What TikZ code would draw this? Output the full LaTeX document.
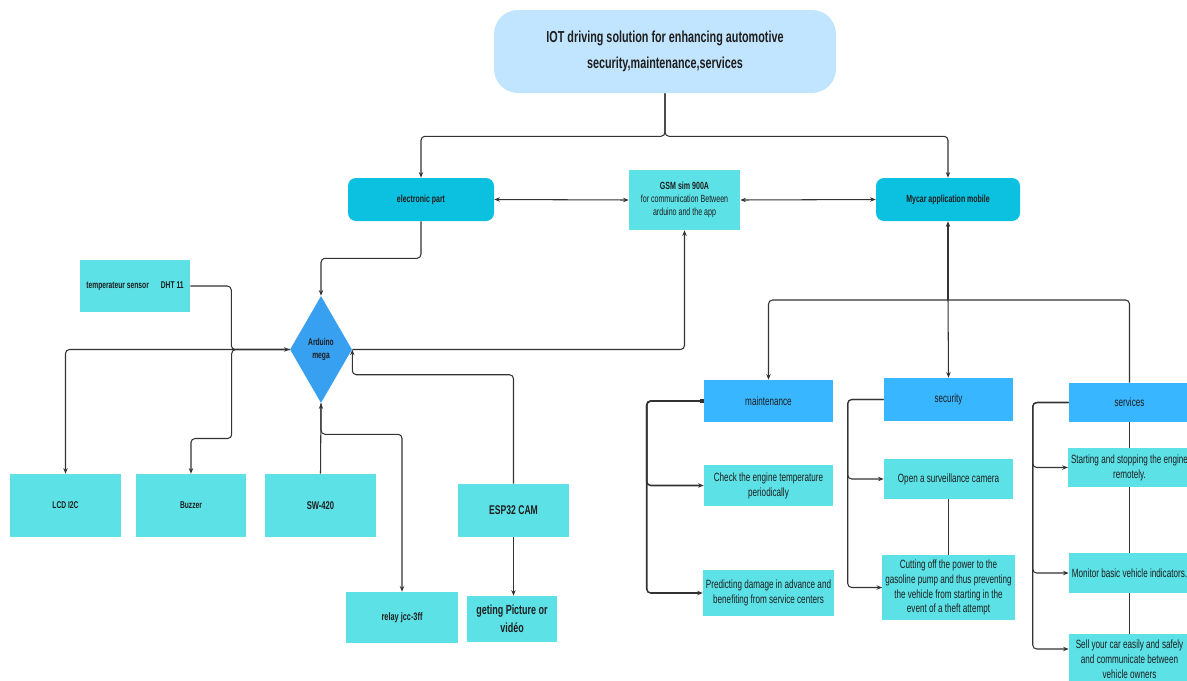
\documentclass[tikz,border=0pt]{standalone}
\usepackage{fontspec}
\setmainfont{Liberation Sans}[FakeStretch=0.68]
\usetikzlibrary{shapes.geometric,arrows.meta}
\definecolor{titleblue}{HTML}{C2E5FF}
\definecolor{partcyan}{HTML}{0CC0DF}
\definecolor{itemteal}{HTML}{5CE1E6}
\definecolor{topicblue}{HTML}{38B6FF}
\definecolor{chipblue}{HTML}{38A0F0}
\definecolor{linegray}{HTML}{333333}
\definecolor{textdark}{HTML}{1E1E1E}
\tikzset{
	cellbase/.style={inner sep=2pt, align=center, text=textdark},
	headbox/.style={cellbase, fill=titleblue, rounded corners=6mm, font=\bfseries\fontsize{11.3}{18}\selectfont},
	partbox/.style={cellbase, fill=partcyan, rounded corners=2mm, font=\bfseries\fontsize{7.3}{9}\selectfont},
	itembox/.style={cellbase, fill=itemteal, font=\fontsize{8.5}{10.6}\selectfont},
	partitem/.style={cellbase, fill=itemteal, font=\bfseries\fontsize{7}{9}\selectfont},
	topicbox/.style={cellbase, fill=topicblue, font=\fontsize{8.5}{10.6}\selectfont},
	chip/.style={diamond, fill=chipblue, aspect=0.58, inner sep=0pt, text=textdark, align=center, font=\bfseries\fontsize{7}{9}\selectfont},
	conn/.style={draw=linegray, line width=0.75pt, rounded corners=1mm},
}
\begin{document}
\begin{tikzpicture}[x=0.25mm, y=-0.25mm, >={Stealth[length=1.4mm,width=1.1mm]}]
	\useasboundingbox (0,0) rectangle (1187,680);
	% top
	\node[headbox, minimum width=85.5mm, minimum height=20.75mm] (title) at (665,51.5) {IOT driving solution for enhancing automotive\\security,maintenance,services};
	\node[partbox, minimum width=36.5mm, minimum height=10.75mm] (elec) at (421,199.5) {electronic part};
	\node[itembox, minimum width=27.75mm, minimum height=15mm, font=\fontsize{7.4}{9.2}\selectfont] (gsm) at (684.5,200) {\textbf{GSM sim 900A}\\for communication Between\\arduino and the app};
	\node[partbox, minimum width=36mm, minimum height=10.75mm] (mycar) at (948,199.5) {Mycar application mobile};
	\draw[conn,->] (title.south) -- ++(0,43) -| (elec.north);
	\draw[conn,->] (title.south) -- ++(0,43) -| (mycar.north);
	\draw[conn,<->] (elec.east) -- (gsm.west);
	\draw[conn,<->] (gsm.east) -- (mycar.west);
	% electronic part
	\node[chip, minimum width=15.5mm, minimum height=26.75mm] (ard) at (321,349.5) {Arduino\\mega};
	\node[partitem, minimum width=27.5mm, minimum height=13mm] (temp) at (135,286) {temperateur sensor\hspace{3mm}DHT 11};
	\node[partitem, minimum width=27.75mm, minimum height=15.75mm] (lcd) at (65.5,505.5) {LCD I2C};
	\node[partitem, minimum width=27.5mm, minimum height=15.75mm] (buzz) at (191,505.5) {Buzzer};
	\node[partitem, minimum width=27.75mm, minimum height=15.75mm, font=\bfseries\fontsize{8}{10}\selectfont] (sw) at (320.5,505.5) {SW-420};
	\node[partitem, minimum width=27.75mm, minimum height=13.25mm, font=\bfseries\fontsize{9}{11}\selectfont] (esp) at (513.5,510.5) {ESP32 CAM};
	\node[partitem, minimum width=28mm, minimum height=12.75mm, font=\bfseries\fontsize{7.7}{9}\selectfont] (relay) at (402,617.5) {relay jcc-3ff};
	\node[partitem, minimum width=22.5mm, minimum height=11.5mm, font=\bfseries\fontsize{9.4}{12.8}\selectfont] (pic) at (512,619) {geting Picture or\\vidéo};
	\draw[conn,->] (elec.south) -- ++(0,37) -| (ard.north);
	\draw[conn,->] (temp.east) -- ++(41,0) |- (ard.west);
	\draw[conn,->] (ard.west) -| (lcd.north);
	\draw[conn,->] (ard.west) -- ++(-58,0) -- ++(0,89) -| (buzz.north);
	\draw[conn,->] (sw.north) -- (ard.south);
	\draw[conn,->] (ard.south) -- ++(0,31) -| (relay.north);
	\draw[conn,->] (esp.north) -- ++(0,-109) -| (ard.east);
	\draw[conn,->] (ard.east) -| (gsm.south);
	\draw[conn,->] (esp.south) -- (esp.south |- pic.north);
	% application
	\coordinate (hub) at (948,300);
	\node[topicbox, minimum width=32.25mm, minimum height=10.5mm] (maint) at (768.5,401) {maintenance};
	\node[topicbox, minimum width=32.25mm, minimum height=10.75mm] (sec) at (948.5,399.5) {security};
	\node[topicbox, minimum width=30.25mm, minimum height=9.75mm] (serv) at (1129.5,402.5) {services};
	\node[itembox, minimum width=32.25mm, minimum height=10.25mm] (chk) at (768.5,485.5) {Check the engine temperature\\periodically};
	\node[itembox, minimum width=32.25mm, minimum height=11.5mm] (pred) at (768.5,593) {Predicting damage in advance and\\benefiting from service centers};
	\node[itembox, minimum width=32.25mm, minimum height=10mm] (open) at (948.5,479) {Open a surveillance camera};
	\node[itembox, minimum width=32.25mm, minimum height=16.25mm] (cut) at (948.5,587.5) {Cutting off the power to the\\gasoline pump and thus preventing\\the vehicle from starting in the\\event of a theft attempt};
	\node[itembox, minimum width=30.25mm, minimum height=9.75mm] (start) at (1129.5,467.5) {Starting and stopping the engine\\remotely.};
	\node[itembox, minimum width=30.25mm, minimum height=10mm] (monit) at (1129.5,573) {Monitor basic vehicle indicators.};
	\node[itembox, minimum width=30.25mm, minimum height=12.5mm] (sell) at (1129.5,659) {Sell your car easily and safely\\and communicate between\\vehicle owners};
	\draw[conn,<-] (mycar.south) -- (hub);
	\draw[conn,->] (hub) -| (maint.north);
	\draw[conn,->] (hub) -- (sec.north);
	\draw[conn] (hub) -| (serv.north);
	\draw[conn,line width=1.1pt,{Square[length=1mm,width=1.2mm]}->] (maint.west) -- ++(-57,0) |- (chk.west);
	\draw[conn,line width=1.1pt,->] (maint.west) -- ++(-57,0) |- (pred.west);
	\draw[conn,->] (sec.west) -- ++(-36,0) |- (open.west);
	\draw[conn,->] (sec.west) -- ++(-36,0) |- (cut.west);
	\draw[conn] (open.south) -- (cut.north);
	\draw[conn,->] (serv.west) -- ++(-36,0) |- (start.west);
	\draw[conn,->] (serv.west) -- ++(-36,0) |- (monit.west);
	\draw[conn,->] (serv.west) -- ++(-36,0) |- ([yshift=2.5mm]sell.west);
	\draw[conn] (serv.south) -- (start.north);
	\draw[conn] (start.south) -- (monit.north);
	\draw[conn] (monit.south) -- (sell.north);
\end{tikzpicture}
\end{document}
